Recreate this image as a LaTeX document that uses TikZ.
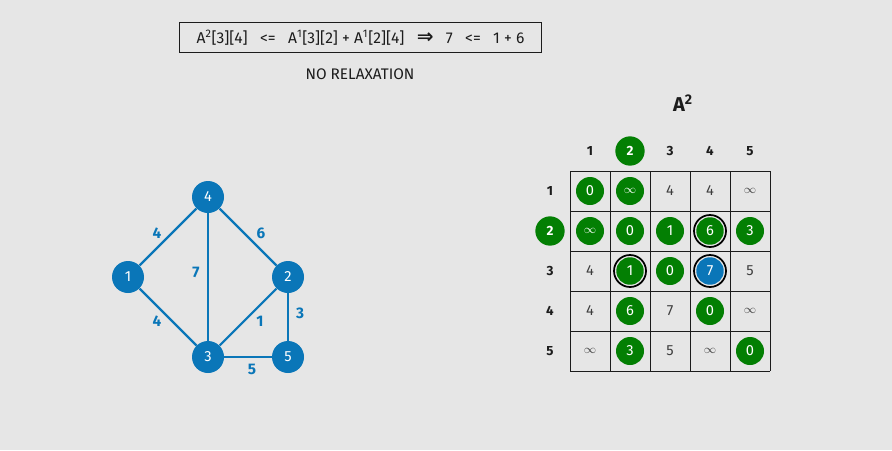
\documentclass[tikz,border=0pt]{standalone}
\usepackage{fontspec}
\setmainfont{Fira Sans}
\newfontfamily\arrowfont{DejaVu Sans}
\definecolor{bggray}{HTML}{E6E6E6}
\definecolor{vblue}{HTML}{0A76B8}
\definecolor{cgreen}{HTML}{037F03}
\definecolor{ink}{HTML}{1C1C1C}
\newcommand{\inftysm}{{\fontsize{9}{9}\selectfont$\infty$}}

\begin{document}
\begin{tikzpicture}[x=0.75pt,y=-0.75pt,
  vtx/.style={circle,fill=vblue,text=white,minimum size=24pt,inner sep=0pt,font=\fontsize{11}{12}\selectfont},
  edge/.style={vblue,line width=1.6pt},
  wlabel/.style={text=vblue,font=\fontsize{11.5}{13}\selectfont\bfseries},
  plain/.style={text=ink!85,font=\fontsize{11}{12}\selectfont},
  hit/.style={circle,fill=cgreen,text=white,minimum size=21pt,inner sep=0pt,font=\fontsize{11}{12}\selectfont},
  ring/.style={circle,draw=black,line width=1.3pt,minimum size=24pt,inner sep=0pt,text=white,
    font=\fontsize{11}{12}\selectfont,
    path picture={\fill[#1] (path picture bounding box.center) circle (10.3pt);}},
  ring/.default=cgreen,
  head/.style={text=ink,font=\fontsize{10}{11}\selectfont\bfseries}]
\fill[bggray] (0,0) rectangle (892,450);

% equation and verdict
\node[draw=ink,line width=0.6pt,minimum width=272pt,minimum height=23pt,inner sep=0pt,text=ink,font=\fontsize{11.7}{14}\selectfont]
  (eqbox) at (360.5,37.5)
  {A\textsuperscript{2}[3][4]\ \ \ <=\ \ \ A\textsuperscript{1}[3][2] + A\textsuperscript{1}[2][4]\ \ \ {\arrowfont\bfseries\fontsize{15}{15}\selectfont ⇒}\ \ \ 7\ \ \ <=\ \ \ 1 + 6};
\node[text=ink,font=\fontsize{11.5}{13}\selectfont] (verdict) at (360,74) {NO RELAXATION};

% graph
\node[vtx] (n4) at (208,197) {4};
\node[vtx] (n1) at (128,277) {1};
\node[vtx] (n2) at (288,277) {2};
\node[vtx] (n3) at (208,357) {3};
\node[vtx] (n5) at (288,357) {5};
\draw[edge] (n1) -- (n4);
\draw[edge] (n4) -- (n2);
\draw[edge] (n4) -- (n3);
\draw[edge] (n1) -- (n3);
\draw[edge] (n2) -- (n3);
\draw[edge] (n2) -- (n5);
\draw[edge] (n3) -- (n5);
\node[wlabel] (w14) at (157,233) {4};
\node[wlabel] (w42) at (261,233) {6};
\node[wlabel] (w43) at (196,272) {7};
\node[wlabel] (w13) at (157,321) {4};
\node[wlabel] (w23) at (260,321) {1};
\node[wlabel] (w25) at (300,313) {3};
\node[wlabel] (w35) at (252,369) {5};

% matrix A^2
\node[text=ink,font=\fontsize{15}{17}\selectfont\bfseries] (title) at (683,103) {A\textsuperscript{2}};
\foreach \k in {0,...,5} {
  \draw[ink,line width=0.75pt] (570+40*\k,171) -- (570+40*\k,371);
  \draw[ink,line width=0.75pt] (570,171+40*\k) -- (770,171+40*\k);
}
\foreach \k in {1,3,4,5} {
  \node[head] (col\k) at (550+40*\k,151) {\k};
  \node[head] (row\k) at (550,151+40*\k) {\k};
}
\node[hit,minimum size=22pt,font=\fontsize{10}{11}\selectfont\bfseries] (col2) at (630,151) {2};
\node[hit,minimum size=22pt,font=\fontsize{10}{11}\selectfont\bfseries] (row2) at (550,231) {2};

% row 1
\node[hit]   (a11) at (590,191) {0};
\node[hit]   (a12) at (630,191) {\inftysm};
\node[plain] (a13) at (670,191) {4};
\node[plain] (a14) at (710,191) {4};
\node[plain] (a15) at (750,191) {\inftysm};
% row 2
\node[hit]   (a21) at (590,231) {\inftysm};
\node[hit]   (a22) at (630,231) {0};
\node[hit]   (a23) at (670,231) {1};
\node[ring]  (a24) at (710,231) {6};
\node[hit]   (a25) at (750,231) {3};
% row 3
\node[plain] (a31) at (590,271) {4};
\node[ring]  (a32) at (630,271) {1};
\node[hit]   (a33) at (670,271) {0};
\node[ring=vblue] (a34) at (710,271) {7};
\node[plain] (a35) at (750,271) {5};
% row 4
\node[plain] (a41) at (590,311) {4};
\node[hit]   (a42) at (630,311) {6};
\node[plain] (a43) at (670,311) {7};
\node[hit]   (a44) at (710,311) {0};
\node[plain] (a45) at (750,311) {\inftysm};
% row 5
\node[plain] (a51) at (590,351) {\inftysm};
\node[hit]   (a52) at (630,351) {3};
\node[plain] (a53) at (670,351) {5};
\node[plain] (a54) at (710,351) {\inftysm};
\node[hit]   (a55) at (750,351) {0};
\end{tikzpicture}
\end{document}
